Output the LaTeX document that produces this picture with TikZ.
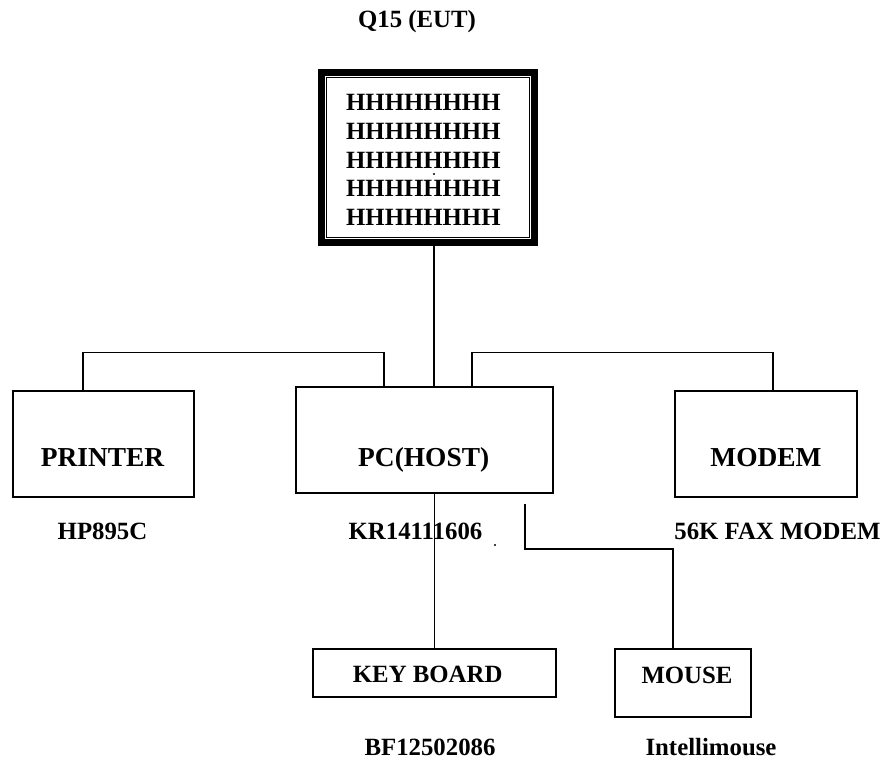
\documentclass[tikz,border=0pt]{standalone}
\usepackage{fontspec}
\setmainfont{Liberation Serif}
\begin{document}
\begin{tikzpicture}[x=1pt,y=-1pt,
  box/.style={draw, line width=1.2pt, inner sep=0pt},
  conn/.style={line width=1.2pt},
  bigtxt/.style={anchor=base, inner sep=0pt, font=\fontsize{27.4}{32}\selectfont\bfseries},
  txt/.style={anchor=base, inner sep=0pt, font=\fontsize{24.8}{29}\selectfont\bfseries},
  htxt/.style={anchor=base west, inner sep=0pt, font=\fontsize{24.8}{29}\selectfont\bfseries}]
\useasboundingbox (0,0) rectangle (884,759);
% title
\node[txt] (title) at (417,28) {Q15 (EUT)};
% monitor
\node[draw, line width=6.6pt, inner sep=0pt, minimum width=213.4pt, minimum height=170.4pt] (mon) at (428,157.5) {};
\draw[line width=1.3pt] ([xshift=5.8pt,yshift=-5.8pt]mon.north west) rectangle ([xshift=-5.8pt,yshift=5.8pt]mon.south east);
\draw[line width=1pt] ([xshift=8.6pt,yshift=-8.6pt]mon.north west) rectangle ([xshift=-8.6pt,yshift=8.6pt]mon.south east);
\foreach \i/\yy in {1/110.7,2/139.4,3/168.1,4/196.8,5/225.5}{
  \node[htxt] (h\i) at (346,\yy) {HHHHHHHH};
}
\fill (434,174) circle (1.1pt);
% boxes
\node[box, minimum width=181pt, minimum height=106pt] (printer) at (103.5,444) {};
\node[box, minimum width=257pt, minimum height=106pt] (pc) at (424.5,440) {};
\node[box, minimum width=182pt, minimum height=106pt] (modem) at (766,444) {};
\node[box, minimum width=243pt, minimum height=48pt] (kb) at (434.5,673) {};
\node[box, minimum width=136pt, minimum height=68pt] (mouse) at (683,683) {};
% box texts
\node[bigtxt] (tprinter) at (102.5,466) {PRINTER};
\node[bigtxt] (tpc) at (423.7,466) {PC(HOST)};
\node[bigtxt] (tmodem) at (766,466) {MODEM};
\node[txt] (tkb) at (427.7,682.7) {KEY BOARD};
\node[txt] (tmouse) at (687,683) {MOUSE};
% labels
\node[txt] (lprinter) at (102.5,539.3) {HP895C};
\node[txt] (lpc) at (415.5,539.3) {KR14111606};
\node[txt] (lmodem) at (777.5,539.3) {56K FAX MODEM};
\node[txt] (lkb) at (430,755) {BF12502086};
\node[txt] (lmouse) at (711,755) {Intellimouse};
\fill (495,545) circle (1.1pt);
% connectors
\draw[conn] ([xshift=6pt]mon.south) -- ([xshift=6pt]mon.south |- pc.north);
\draw[conn] ([xshift=-40.5pt]pc.north) -- ++(0,-34) -| ([xshift=-20.5pt]printer.north);
\draw[conn] ([xshift=47.5pt]pc.north) -- ++(0,-34) -| ([xshift=7pt]modem.north);
\draw[conn] (pc.south -| kb.north) -- (kb.north);
\coordinate (mstart) at (525,504);
\draw[conn] (mstart) -- ++(0,45) -| ([xshift=-10pt]mouse.north);
\end{tikzpicture}
\end{document}
